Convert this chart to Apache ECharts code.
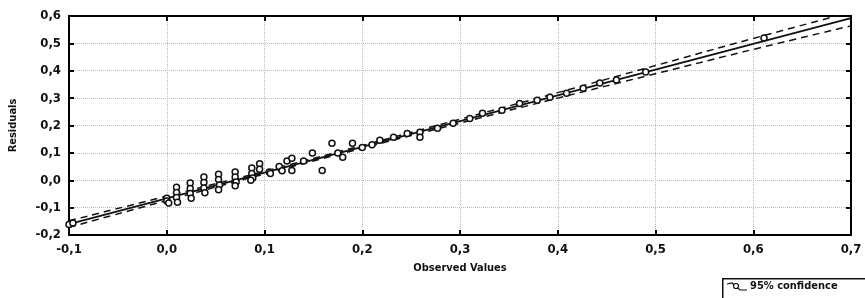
<!DOCTYPE html>
<html>
<head>
<meta charset="utf-8">
<script src="https://cdn.jsdelivr.net/npm/echarts@6/dist/echarts.min.js"></script>
<style>
  html, body { margin: 0; padding: 0; background: #fff; }
  #chart { width: 865px; height: 298px; }
</style>
</head>
<body>
<div id="chart"></div>
<script>
// observed vs residuals
let points = [
  [-0.1, -0.162], [-0.096, -0.156],
  [0, -0.066], [0, -0.076], [0.002, -0.083],
  [0.01, -0.026], [0.01, -0.045], [0.01, -0.063], [0.011, -0.08],
  [0.024, -0.01], [0.024, -0.03], [0.024, -0.048], [0.025, -0.066],
  [0.038, 0.012], [0.038, -0.008], [0.038, -0.028], [0.039, -0.046],
  [0.053, 0.022], [0.053, 0.003], [0.054, -0.017], [0.053, -0.035],
  [0.07, 0.03], [0.07, 0.012], [0.071, -0.006], [0.07, -0.02],
  [0.087, 0.045], [0.087, 0.025], [0.088, 0.008], [0.086, 0.0],
  [0.095, 0.06], [0.095, 0.04], [0.105, 0.03], [0.106, 0.025],
  [0.115, 0.05], [0.118, 0.035], [0.123, 0.07], [0.128, 0.08], [0.128, 0.036],
  [0.14, 0.07], [0.149, 0.1], [0.159, 0.036], [0.169, 0.135], [0.175, 0.1],
  [0.18, 0.084], [0.19, 0.135], [0.2, 0.12], [0.21, 0.13], [0.218, 0.146],
  [0.232, 0.157], [0.246, 0.171], [0.259, 0.175], [0.259, 0.157], [0.277, 0.19],
  [0.293, 0.208], [0.31, 0.226], [0.323, 0.245], [0.343, 0.256], [0.361, 0.28],
  [0.379, 0.292], [0.392, 0.303], [0.409, 0.318], [0.426, 0.336], [0.443, 0.355],
  [0.46, 0.366], [0.49, 0.395], [0.611, 0.52]
]

let fitX = [-0.1, 0.7]
let fitY = [-0.16, 0.592]

let bandX = [-0.1, 0, 0.1, 0.2, 0.3, 0.4, 0.5, 0.6, 0.7]
let bandUpper = [-0.148, -0.058, 0.033, 0.127, 0.223, 0.32, 0.419, 0.518, 0.614]
let bandLower = [-0.172, -0.074, 0.023, 0.117, 0.209, 0.3, 0.389, 0.478, 0.564]

let fmt = v => v.toFixed(1).replace('.', ',')
let font = "'Liberation Sans Narrow', 'DejaVu Sans Condensed', sans-serif"

let pair = (xs, ys) => xs.map((x, i) => [x, ys[i]])

let oChart = echarts.init(document.getElementById('chart'))

let labelStyle = { color: '#111', fontFamily: font, fontWeight: 'bold', fontSize: 13 }
let frameLine = { show: true, onZero: false, lineStyle: { color: '#000', width: 2 } }
let frameTick = { show: true, inside: true, length: 5, lineStyle: { color: '#000', width: 2 } }
let grid = { lineStyle: { color: '#bbbbbb', type: 'dotted', width: 1 } }

oChart.setOption({
  animation: false,
  grid: { left: 68, right: 14, top: 16, bottom: 63 },
  xAxis: [{
    type: 'value', min: -0.1, max: 0.7, interval: 0.1,
    name: 'Observed Values', nameLocation: 'middle', nameGap: 28,
    nameTextStyle: { color: '#111', fontFamily: font, fontWeight: 'bold', fontSize: 11 },
    axisLine: frameLine, axisTick: frameTick,
    axisLabel: Object.assign({ formatter: fmt, margin: 8 }, labelStyle),
    splitLine: grid
  }, {
    type: 'value', position: 'top', min: -0.1, max: 0.7, interval: 0.1,
    axisLine: frameLine, axisTick: frameTick,
    axisLabel: { show: false }, splitLine: { show: false }
  }],
  yAxis: [{
    type: 'value', min: -0.2, max: 0.6, interval: 0.1,
    name: 'Residuals', nameLocation: 'middle', nameGap: 50, nameRotate: 90,
    nameTextStyle: { color: '#111', fontFamily: font, fontWeight: 'bold', fontSize: 11 },
    axisLine: frameLine, axisTick: frameTick,
    axisLabel: Object.assign({ formatter: fmt, margin: 8 }, labelStyle),
    splitLine: grid
  }, {
    type: 'value', position: 'right', min: -0.2, max: 0.6, interval: 0.1,
    axisLine: frameLine, axisTick: frameTick,
    axisLabel: { show: false }, splitLine: { show: false }
  }],
  series: [
    {
      type: 'scatter', data: points, symbol: 'circle', symbolSize: 6,
      itemStyle: { color: '#fff', borderColor: '#111', borderWidth: 1.5, opacity: 1 }, z: 5
    },
    {
      type: 'line', data: pair(fitX, fitY), showSymbol: false,
      lineStyle: { color: '#111', width: 1.8 }, z: 4
    },
    {
      type: 'line', data: pair(bandX, bandUpper), smooth: true, showSymbol: false,
      lineStyle: { color: '#111', width: 1.5, type: [7, 5] }, z: 4
    },
    {
      type: 'line', data: pair(bandX, bandLower), smooth: true, showSymbol: false,
      lineStyle: { color: '#111', width: 1.5, type: [7, 5] }, z: 4
    }
  ],
  graphic: [
    { type: 'rect', left: 722, top: 278, shape: { width: 150, height: 26 },
      style: { fill: '#fff', stroke: '#111', lineWidth: 1.5 } },
    { type: 'polyline', shape: { points: [[727, 284], [732, 283], [740, 290], [747, 290]] },
      style: { stroke: '#111', lineWidth: 1.2, fill: null } },
    { type: 'circle', shape: { cx: 736, cy: 286, r: 2.5 },
      style: { fill: '#fff', stroke: '#111', lineWidth: 1.2 } },
    { type: 'text', left: 750, top: 281,
      style: { text: '95% confidence', fill: '#111', font: "bold 11px " + font } }
  ]
})
</script>
</body>
</html>
